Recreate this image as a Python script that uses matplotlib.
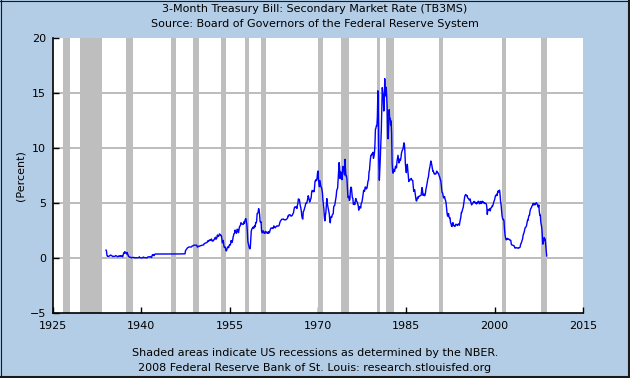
import numpy as np
import matplotlib
matplotlib.use('Agg')
import matplotlib.pyplot as plt
from matplotlib.lines import Line2D

# 3-month T-bill, monthly averages, Jan 1934 - Nov 2008 (percent)
start_year = 1934
rate = [
    0.72, 0.62, 0.24, 0.15, 0.16, 0.15, 0.15, 0.19, 0.21, 0.27, 0.25, 0.23,  # 1934
    0.19, 0.17, 0.13, 0.15, 0.15, 0.15, 0.15, 0.19, 0.22, 0.20, 0.17, 0.12,  # 1935
    0.12, 0.13, 0.19, 0.18, 0.16, 0.21, 0.16, 0.18, 0.21, 0.14, 0.11, 0.30,  # 1936
    0.45, 0.41, 0.57, 0.56, 0.46, 0.46, 0.36, 0.50, 0.37, 0.26, 0.16, 0.10,  # 1937
    0.07, 0.07, 0.07, 0.04, 0.01, 0.03, 0.05, 0.05, 0.06, 0.05, 0.02, 0.01,  # 1938
    0.01, 0.03, 0.02, 0.01, 0.01, 0.02, 0.03, 0.05, 0.11, 0.02, 0.01, 0.01,  # 1939
    0.01, 0.02, 0.01, 0.01, 0.09, 0.05, 0.03, 0.04, 0.03, 0.02, 0.01, 0.01,  # 1940
    0.01, 0.08, 0.11, 0.10, 0.09, 0.09, 0.13, 0.10, 0.07, 0.05, 0.24, 0.30,  # 1941
    0.23, 0.28, 0.21, 0.32, 0.36, 0.36, 0.37, 0.37, 0.37, 0.37, 0.37, 0.36,  # 1942
    0.37, 0.37, 0.37, 0.37, 0.37, 0.37, 0.37, 0.37, 0.37, 0.37, 0.37, 0.37,  # 1943
    0.37, 0.37, 0.37, 0.37, 0.37, 0.37, 0.37, 0.37, 0.37, 0.37, 0.37, 0.37,  # 1944
    0.37, 0.37, 0.37, 0.37, 0.37, 0.37, 0.37, 0.37, 0.37, 0.37, 0.37, 0.37,  # 1945
    0.37, 0.37, 0.37, 0.37, 0.37, 0.37, 0.37, 0.37, 0.37, 0.37, 0.37, 0.37,  # 1946
    0.38, 0.38, 0.38, 0.38, 0.38, 0.38, 0.66, 0.73, 0.80, 0.85, 0.92, 0.95,  # 1947
    0.97, 1.00, 1.00, 1.00, 1.00, 1.00, 1.00, 1.06, 1.09, 1.12, 1.14, 1.16,  # 1948
    1.17, 1.17, 1.17, 1.17, 1.17, 1.16, 0.99, 1.02, 1.06, 1.04, 1.07, 1.10,  # 1949
    1.10, 1.12, 1.14, 1.16, 1.17, 1.17, 1.17, 1.21, 1.30, 1.31, 1.36, 1.37,  # 1950
    1.38, 1.39, 1.42, 1.52, 1.58, 1.50, 1.59, 1.64, 1.65, 1.61, 1.61, 1.73,  # 1951
    1.57, 1.54, 1.59, 1.57, 1.67, 1.70, 1.82, 1.88, 1.71, 1.74, 1.85, 2.09,  # 1952
    1.96, 1.97, 2.01, 2.19, 2.16, 2.11, 2.04, 2.04, 1.79, 1.38, 1.44, 1.60,  # 1953
    1.18, 0.97, 1.03, 0.96, 0.76, 0.64, 0.72, 0.92, 1.01, 0.98, 0.93, 1.14,  # 1954
    1.23, 1.17, 1.28, 1.59, 1.45, 1.41, 1.60, 1.90, 2.07, 2.23, 2.24, 2.54,  # 1955
    2.41, 2.32, 2.25, 2.60, 2.61, 2.49, 2.31, 2.60, 2.84, 2.90, 2.99, 3.21,  # 1956
    3.11, 3.10, 3.08, 3.06, 3.06, 3.29, 3.16, 3.37, 3.53, 3.58, 3.29, 3.04,  # 1957
    2.44, 1.53, 1.30, 1.13, 0.91, 0.83, 0.91, 1.69, 2.44, 2.63, 2.67, 2.77,  # 1958
    2.82, 2.70, 2.80, 2.95, 2.84, 3.21, 3.20, 3.38, 4.04, 4.05, 4.15, 4.49,  # 1959
    4.35, 3.96, 3.31, 3.23, 3.29, 2.46, 2.30, 2.30, 2.48, 2.30, 2.37, 2.25,  # 1960
    2.24, 2.42, 2.39, 2.29, 2.29, 2.33, 2.24, 2.39, 2.28, 2.30, 2.48, 2.60,  # 1961
    2.72, 2.73, 2.72, 2.73, 2.68, 2.73, 2.92, 2.82, 2.78, 2.74, 2.83, 2.87,  # 1962
    2.91, 2.92, 2.89, 2.90, 2.92, 2.99, 3.18, 3.32, 3.38, 3.45, 3.52, 3.52,  # 1963
    3.52, 3.53, 3.54, 3.47, 3.48, 3.48, 3.46, 3.50, 3.53, 3.57, 3.64, 3.84,  # 1964
    3.81, 3.93, 3.93, 3.93, 3.89, 3.80, 3.84, 3.84, 3.92, 4.03, 4.09, 4.38,  # 1965
    4.59, 4.65, 4.59, 4.62, 4.64, 4.50, 4.80, 4.96, 5.37, 5.35, 5.32, 5.00,  # 1966
    4.72, 4.56, 4.26, 3.84, 3.60, 3.54, 4.21, 4.27, 4.42, 4.56, 4.73, 4.97,  # 1967
    5.00, 4.98, 5.17, 5.38, 5.66, 5.52, 5.31, 5.09, 5.19, 5.35, 5.45, 5.96,  # 1968
    6.14, 6.12, 6.02, 6.11, 6.04, 6.44, 7.00, 7.01, 7.13, 7.04, 7.19, 7.72,  # 1969
    7.91, 7.16, 6.71, 6.48, 7.04, 6.74, 6.50, 6.41, 6.24, 5.93, 5.29, 4.86,  # 1970
    4.44, 3.70, 3.38, 3.86, 4.14, 4.75, 5.40, 4.94, 4.69, 4.46, 4.22, 4.01,  # 1971
    3.38, 3.20, 3.73, 3.71, 3.69, 3.91, 3.98, 4.02, 4.66, 4.74, 4.78, 5.07,  # 1972
    5.41, 5.60, 6.09, 6.26, 6.36, 7.19, 8.01, 8.67, 8.29, 7.22, 7.83, 7.45,  # 1973
    7.77, 7.12, 7.96, 8.33, 8.23, 7.90, 7.55, 8.96, 8.06, 7.46, 7.47, 7.15,  # 1974
    6.26, 5.50, 5.49, 5.61, 5.23, 5.34, 6.13, 6.44, 6.42, 5.96, 5.48, 5.44,  # 1975
    4.87, 4.88, 5.00, 4.86, 5.20, 5.41, 5.23, 5.14, 5.08, 4.92, 4.75, 4.35,  # 1976
    4.62, 4.67, 4.60, 4.54, 4.96, 5.02, 5.19, 5.49, 5.81, 6.16, 6.10, 6.07,  # 1977
    6.44, 6.45, 6.29, 6.29, 6.41, 6.73, 7.01, 7.08, 7.85, 7.99, 8.64, 9.08,  # 1978
    9.35, 9.32, 9.48, 9.46, 9.61, 9.06, 9.24, 9.52, 10.26, 11.70, 11.79, 12.04,  # 1979
    12.00, 12.86, 15.20, 13.20, 8.58, 7.07, 8.06, 9.13, 10.27, 11.62, 13.73, 15.49,  # 1980
    15.02, 14.79, 13.36, 13.69, 16.30, 14.73, 14.95, 15.51, 14.70, 13.54, 10.86, 10.85,  # 1981
    12.28, 13.48, 12.68, 12.70, 12.09, 12.47, 11.35, 8.68, 7.92, 7.71, 8.07, 7.94,  # 1982
    7.86, 8.11, 8.35, 8.21, 8.19, 8.79, 9.08, 9.34, 9.00, 8.64, 8.76, 9.00,  # 1983
    8.90, 9.09, 9.52, 9.69, 9.83, 9.87, 10.12, 10.47, 10.37, 9.74, 8.61, 8.06,  # 1984
    7.76, 8.27, 8.52, 7.95, 7.48, 6.95, 7.08, 7.14, 7.10, 7.16, 7.24, 7.10,  # 1985
    7.07, 7.06, 6.56, 6.06, 6.15, 6.21, 5.83, 5.53, 5.21, 5.18, 5.35, 5.53,  # 1986
    5.43, 5.59, 5.59, 5.64, 5.66, 5.67, 5.69, 6.04, 6.40, 6.13, 5.69, 5.77,  # 1987
    5.81, 5.66, 5.70, 5.91, 6.26, 6.46, 6.73, 7.06, 7.24, 7.35, 7.76, 8.07,  # 1988
    8.27, 8.53, 8.82, 8.65, 8.43, 8.15, 7.88, 7.90, 7.75, 7.64, 7.69, 7.63,  # 1989
    7.64, 7.74, 7.90, 7.77, 7.74, 7.73, 7.62, 7.45, 7.36, 7.17, 7.06, 6.74,  # 1990
    6.22, 5.94, 5.91, 5.65, 5.46, 5.57, 5.58, 5.33, 5.22, 4.99, 4.56, 4.07,  # 1991
    3.80, 3.84, 4.04, 3.75, 3.63, 3.66, 3.21, 3.13, 2.91, 2.86, 3.13, 3.22,  # 1992
    3.00, 2.93, 2.95, 2.87, 2.96, 3.07, 3.04, 3.02, 2.95, 3.02, 3.10, 3.06,  # 1993
    2.98, 3.25, 3.50, 3.68, 4.14, 4.14, 4.33, 4.48, 4.62, 4.95, 5.29, 5.60,  # 1994
    5.71, 5.77, 5.73, 5.65, 5.67, 5.47, 5.42, 5.40, 5.28, 5.28, 5.36, 5.14,  # 1995
    5.00, 4.83, 4.96, 4.95, 5.02, 5.09, 5.15, 5.05, 5.09, 4.99, 5.03, 4.91,  # 1996
    5.03, 5.01, 5.14, 5.16, 5.05, 4.93, 5.05, 5.14, 4.95, 4.97, 5.14, 5.16,  # 1997
    5.04, 5.09, 5.03, 4.95, 5.00, 4.98, 4.96, 4.90, 4.61, 3.96, 4.41, 4.39,  # 1998
    4.34, 4.45, 4.48, 4.28, 4.51, 4.59, 4.60, 4.76, 4.73, 4.88, 5.07, 5.20,  # 1999
    5.32, 5.55, 5.69, 5.66, 5.79, 5.69, 5.96, 6.09, 6.00, 6.11, 6.17, 5.77,  # 2000
    5.15, 4.88, 4.42, 3.87, 3.62, 3.49, 3.51, 3.36, 2.64, 2.16, 1.87, 1.69,  # 2001
    1.65, 1.73, 1.79, 1.72, 1.73, 1.70, 1.68, 1.62, 1.63, 1.58, 1.23, 1.19,  # 2002
    1.17, 1.17, 1.13, 1.13, 1.07, 0.92, 0.90, 0.95, 0.94, 0.92, 0.93, 0.90,  # 2003
    0.88, 0.93, 0.94, 0.94, 1.02, 1.27, 1.33, 1.48, 1.65, 1.76, 2.07, 2.19,  # 2004
    2.33, 2.54, 2.74, 2.78, 2.84, 2.97, 3.22, 3.44, 3.42, 3.71, 3.88, 3.89,  # 2005
    4.24, 4.43, 4.51, 4.60, 4.72, 4.79, 4.95, 4.96, 4.81, 4.92, 4.94, 4.85,  # 2006
    4.98, 5.03, 4.94, 4.87, 4.73, 4.61, 4.82, 4.20, 3.89, 3.90, 3.27, 3.00,  # 2007
    2.75, 2.12, 1.26, 1.29, 1.73, 1.86, 1.63, 1.72, 1.13, 0.67, 0.19,        # 2008
]

# NBER recessions: (peak year, month, trough year, month)
recessions = [
    (1926, 10, 1927, 11), (1929, 8, 1933, 3), (1937, 5, 1938, 6),
    (1945, 2, 1945, 10), (1948, 11, 1949, 10), (1953, 7, 1954, 5),
    (1957, 8, 1958, 4), (1960, 4, 1961, 2), (1969, 12, 1970, 11),
    (1973, 11, 1975, 3), (1980, 1, 1980, 7), (1981, 7, 1982, 11),
    (1990, 7, 1991, 3), (2001, 3, 2001, 11), (2007, 12, 2008, 11),
]

x_ticks = [1925, 1940, 1955, 1970, 1985, 2000, 2015]
y_ticks = [-5, 0, 5, 10, 15, 20]

bg = '#b4cde6'
plt.rcParams['font.family'] = 'DejaVu Sans'

fig = plt.figure(figsize=(6.3, 3.78), dpi=100, facecolor=bg)
ax = fig.add_axes([53/630, 65/378, 530/630, 275/378])
ax.set_facecolor('white')

dates = start_year + np.arange(len(rate)) / 12.0

for y in [0, 5, 10, 15]:
    ax.axhline(y, color='#aaaaaa', lw=1.1, zorder=1)

for py, pm, ty, tm in recessions:
    ax.axvspan(py + (pm - 1) / 12.0, ty + tm / 12.0, color='#bebebe', lw=0, zorder=2)

ax.plot(dates, rate, color='#0000ff', lw=1.0, zorder=3)

ax.set_xlim(1925, 2015)
ax.set_ylim(-5, 20)
ax.set_xticks(x_ticks)
ax.set_yticks(y_ticks)
ax.tick_params(direction='in', length=4, width=1, labelsize=8, colors='black', pad=5)
ax.tick_params(axis='x', pad=6)
for s in ['top', 'right']:
    ax.spines[s].set_visible(False)
for s in ['left', 'bottom']:
    ax.spines[s].set_linewidth(1.2)
ax.set_ylabel('(Percent)', fontsize=8, labelpad=3)

fig.text(0.5, 1 - 9/378, '3-Month Treasury Bill: Secondary Market Rate (TB3MS)',
         ha='center', va='center', fontsize=8)
fig.text(0.5, 1 - 24/378, 'Source: Board of Governors of the Federal Reserve System',
         ha='center', va='center', fontsize=8)
fig.text(0.5, 1 - 353/378, 'Shaded areas indicate US recessions as determined by the NBER.',
         ha='center', va='center', fontsize=8)
fig.text(0.5, 1 - 368/378, '2008 Federal Reserve Bank of St. Louis: research.stlouisfed.org',
         ha='center', va='center', fontsize=8)

# dark edge round the picture: thin on left/top, heavier on right/bottom
edge = '#1a1a1a'
fig.lines.append(Line2D([0.5/630, 0.5/630], [0, 1], transform=fig.transFigure, color=edge, lw=0.8))
fig.lines.append(Line2D([0, 1], [1 - 0.5/378, 1 - 0.5/378], transform=fig.transFigure, color=edge, lw=0.8))
fig.lines.append(Line2D([1 - 1/630, 1 - 1/630], [0, 1], transform=fig.transFigure, color=edge, lw=1.5))
fig.lines.append(Line2D([0, 1], [1/378, 1/378], transform=fig.transFigure, color=edge, lw=1.5))

fig.savefig('out.png', dpi=100, facecolor=bg)
